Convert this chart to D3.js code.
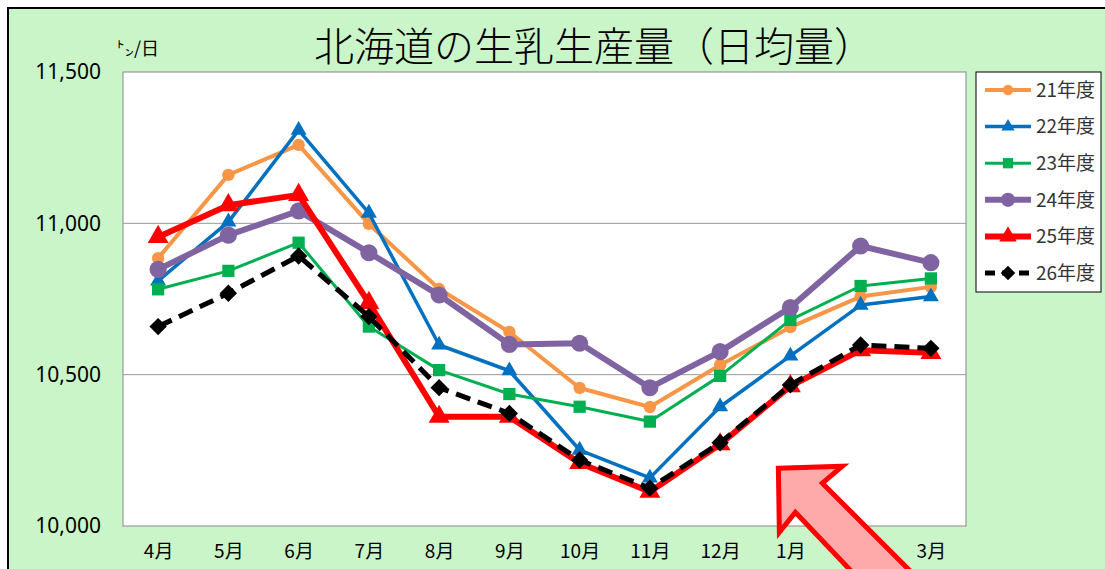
<!DOCTYPE html>
<html>
<head>
<meta charset="utf-8">
<script src="https://cdn.jsdelivr.net/npm/d3@7"></script>
<style>
  html, body { margin: 0; padding: 0; background: #fff; }
  svg { display: block; }
  text { font-family: "Noto Sans", "Noto Sans CJK JP", sans-serif; }
</style>
</head>
<body>
<svg width="1105" height="569"></svg>
<script>
const months = ['4月', '5月', '6月', '7月', '8月', '9月', '10月', '11月', '12月', '1月', '2月', '3月'];
const yTicks = [10000, 10500, 11000, 11500];

const y21 = [10885, 11160, 11259, 10998, 10783, 10641, 10456, 10393, 10532, 10657, 10758, 10790];
const y22 = [10810, 11005, 11308, 11034, 10598, 10513, 10251, 10159, 10394, 10562, 10730, 10758];
const y23 = [10782, 10843, 10936, 10659, 10515, 10436, 10394, 10345, 10496, 10681, 10793, 10818];
const y24 = [10848, 10961, 11041, 10903, 10763, 10600, 10604, 10457, 10576, 10722, 10925, 10870];
const y25 = [10955, 11060, 11094, 10737, 10361, 10361, 10208, 10113, 10270, 10462, 10581, 10572];
const y26 = [10659, 10769, 10892, 10692, 10457, 10372, 10218, 10125, 10275, 10466, 10598, 10587];

const seriesNames = ['21年度', '22年度', '23年度', '24年度', '25年度', '26年度'];

const series = [
  { name: seriesNames[0], values: y21, color: '#F79646', width: 4, shape: 'circle', size: 120, dash: null },
  { name: seriesNames[1], values: y22, color: '#0070C0', width: 3.5, shape: 'triangle', size: 110, dash: null },
  { name: seriesNames[2], values: y23, color: '#00B050', width: 3, shape: 'square', size: 150, dash: null },
  { name: seriesNames[3], values: y24, color: '#8064A2', width: 6, shape: 'circle', size: 230, dash: null },
  { name: seriesNames[4], values: y25, color: '#FF0000', width: 6, shape: 'triangle', size: 190, dash: null },
  { name: seriesNames[5], values: y26, color: '#000000', width: 5, shape: 'diamond', size: 150, dash: '15,8' }
];

const svg = d3.select('svg');
const plot = { left: 123, right: 966, top: 72, bottom: 526 };

// background + frame
svg.append('rect').attr('x', 8).attr('y', 8).attr('width', 1120).attr('height', 600)
  .attr('fill', '#C9F5C9').attr('stroke', '#000').attr('stroke-width', 2);

const x = d3.scalePoint().domain(months).range([plot.left, plot.right]).padding(0.5);
const y = d3.scaleLinear().domain([10000, 11500]).range([plot.bottom, plot.top]);

svg.append('rect')
  .attr('x', plot.left).attr('y', plot.top)
  .attr('width', plot.right - plot.left).attr('height', plot.bottom - plot.top)
  .attr('fill', '#fff').attr('stroke', '#888').attr('stroke-width', 1);

// grid lines
svg.append('g')
  .selectAll('line')
  .data([10500, 11000])
  .enter()
  .append('line')
  .attr('x1', plot.left).attr('x2', plot.right)
  .attr('y1', d => y(d)).attr('y2', d => y(d))
  .attr('stroke', '#999').attr('stroke-width', 1);

// y axis labels
const yAxis = svg.append('g')
  .attr('transform', `translate(${plot.left - 22},0)`)
  .call(d3.axisLeft(y).tickValues(yTicks).tickFormat(d3.format(',')).tickSize(0).tickPadding(0));
yAxis.select('.domain').remove();
yAxis.selectAll('text').attr('font-size', 21).attr('fill', '#000')
  .style('font-family', '"Noto Sans", sans-serif');

// x axis labels
const xAxis = svg.append('g')
  .attr('transform', `translate(0,${plot.bottom + 18})`)
  .call(d3.axisBottom(x).tickSize(0).tickPadding(0));
xAxis.select('.domain').remove();
xAxis.selectAll('text').attr('font-size', 19).attr('fill', '#000')
  .style('font-family', '"Noto Sans CJK JP", sans-serif');

// unit label
svg.append('text')
  .attr('x', 116).attr('y', 55)
  .attr('font-size', 18)
  .style('font-family', '"Noto Sans CJK JP", sans-serif')
  .text('㌧/日');

// title
svg.append('text')
  .attr('x', 594).attr('y', 61)
  .attr('text-anchor', 'middle')
  .attr('font-size', 40)
  .style('font-family', '"Noto Sans CJK JP", sans-serif')
  .style('font-weight', 300)
  .text('北海道の生乳生産量（日均量）');

const symbolType = {
  circle: d3.symbolCircle,
  triangle: d3.symbolTriangle,
  square: d3.symbolSquare,
  diamond: d3.symbolSquare
};

const line = d3.line()
  .x((d, i) => x(months[i]))
  .y(d => y(d));

series.forEach(function (s) {
  const g = svg.append('g');
  g.append('path')
    .datum(s.values)
    .attr('d', line)
    .attr('fill', 'none')
    .attr('stroke', s.color)
    .attr('stroke-width', s.width)
    .attr('stroke-linejoin', 'round')
    .attr('stroke-dasharray', s.dash);
  g.selectAll('path.m')
    .data(s.values)
    .enter()
    .append('path')
    .attr('class', 'm')
    .attr('d', d3.symbol().type(symbolType[s.shape]).size(s.size))
    .attr('transform', (d, i) => `translate(${x(months[i])},${y(d)})` + (s.shape === 'diamond' ? ' rotate(45)' : ''))
    .attr('fill', s.color);
});

// legend
const legend = svg.append('g');
legend.append('rect')
  .attr('x', 976).attr('y', 72).attr('width', 125).attr('height', 220)
  .attr('fill', '#fff').attr('stroke', '#000').attr('stroke-width', 1);

series.forEach(function (s, i) {
  const ly = 90 + i * 36.6;
  legend.append('line')
    .attr('x1', 985).attr('x2', 1031)
    .attr('y1', ly).attr('y2', ly)
    .attr('stroke', s.color)
    .attr('stroke-width', s.width)
    .attr('stroke-dasharray', s.dash ? '10,7' : null);
  legend.append('path')
    .attr('d', d3.symbol().type(symbolType[s.shape]).size(s.size * 0.7))
    .attr('transform', `translate(1008,${ly})` + (s.shape === 'diamond' ? ' rotate(45)' : ''))
    .attr('fill', s.color);
  legend.append('text')
    .attr('x', 1036).attr('y', ly)
    .attr('dy', '0.36em')
    .attr('font-size', 19)
    .attr('fill', '#333')
    .style('font-family', '"Noto Sans CJK JP", sans-serif')
    .text(s.name);
});

// annotation arrow (points up-left towards the 25/26年度 lines)
const ax = x('1月') - 12, ay = y(10191);
const arrowPts = [
  [ax, ay], [ax + 64, ay - 2], [ax + 44, ay + 15], [ax + 150, ay + 121],
  [ax + 90, ay + 121], [ax + 17, ay + 44], [ax + 1, ay + 64]
];
svg.append('path')
  .attr('d', d3.line()(arrowPts) + 'Z')
  .attr('fill', '#FFAAAA')
  .attr('stroke', '#FF0000')
  .attr('stroke-width', 5)
  .attr('stroke-linejoin', 'miter');
</script>
</body>
</html>
